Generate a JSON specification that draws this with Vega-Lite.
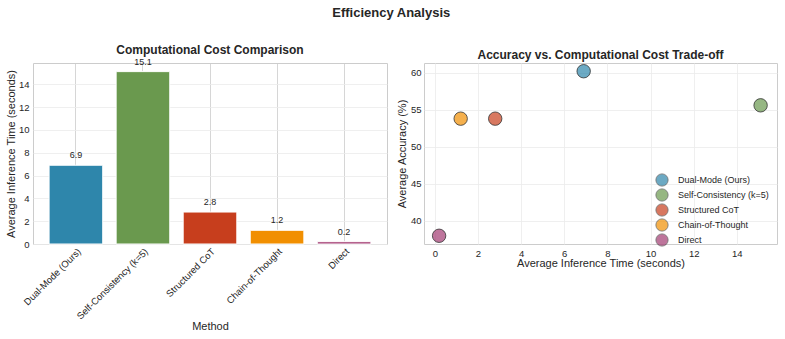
{
  "$schema": "https://vega.github.io/schema/vega-lite/v6.json",
  "autosize": {"type": "pad"},
  "padding": {"left": 4, "top": 7, "right": 5, "bottom": 5},
  "background": "white",
  "title": {"text": "Efficiency Analysis", "fontSize": 13, "fontWeight": "bold", "color": "#262626", "anchor": "middle", "offset": 23},
  "datasets": {
    "methods": [
      {"method": "Dual-Mode (Ours)", "time": 6.9, "accuracy": 60.2},
      {"method": "Self-Consistency (k=5)", "time": 15.1, "accuracy": 55.6},
      {"method": "Structured CoT", "time": 2.8, "accuracy": 53.8},
      {"method": "Chain-of-Thought", "time": 1.2, "accuracy": 53.8},
      {"method": "Direct", "time": 0.2, "accuracy": 38.0}
    ]
  },
  "config": {
    "font": "Liberation Sans",
    "view": {"stroke": "#cccccc", "strokeWidth": 1},
    "title": {"fontSize": 12, "fontWeight": "bold", "color": "#262626", "offset": 1},
    "axis": {
      "domain": false, "ticks": false, "labelFontSize": 9.5, "labelColor": "#262626",
      "titleFontSize": 11, "titleFontWeight": "normal", "titleColor": "#262626",
      "gridColor": "#ebebeb", "gridWidth": 0.8, "labelPadding": 4
    },
    "concat": {"spacing": 7}
  },
  "resolve": {"scale": {"color": "independent"}, "legend": {"color": "independent"}},
  "hconcat": [
    {
      "width": 354, "height": 181,
      "title": "Computational Cost Comparison",
      "data": {"name": "methods"},
      "encoding": {
        "x": {"field": "method", "type": "nominal", "sort": null,
              "scale": {"paddingInner": 0.2, "paddingOuter": 0.24},
              "axis": {"title": "Method", "labelAngle": -45, "labelAlign": "right", "labelBaseline": "top", "grid": true, "gridColor": "#cccccc", "bandPosition": 0.5, "titlePadding": 0, "labelPadding": 2}},
        "y": {"field": "time", "type": "quantitative",
              "scale": {"domain": [0, 15.855], "nice": false, "zero": false},
              "axis": {"title": "Average Inference Time (seconds)", "values": [0,2,4,6,8,10,12,14], "titlePadding": 2}}
      },
      "layer": [
        {"mark": {"type": "bar", "stroke": "white", "strokeWidth": 1},
         "encoding": {"color": {"field": "method", "type": "nominal", "sort": null,
           "scale": {"domain": ["Dual-Mode (Ours)", "Self-Consistency (k=5)", "Structured CoT", "Chain-of-Thought", "Direct"],
                     "range": ["#2E86AB", "#6A994E", "#C73E1D", "#F18F01", "#A23B72"]}, "legend": null}}},
        {"mark": {"type": "text", "dy": -10, "fontSize": 9, "color": "#262626", "baseline": "middle"},
         "encoding": {"text": {"field": "time", "type": "quantitative", "format": ".1f"}}}
      ]
    },
    {
      "width": 353, "height": 181,
      "title": "Accuracy vs. Computational Cost Trade-off",
      "data": {"name": "methods"},
      "mark": {"type": "point", "filled": true, "shape": "circle", "size": 180, "fillOpacity": 0.7, "stroke": "#333333", "strokeWidth": 0.8, "strokeOpacity": 1, "opacity": 1},
      "encoding": {
        "x": {"field": "time", "type": "quantitative",
              "scale": {"domain": [-0.5, 15.86], "nice": false, "zero": false},
              "axis": {"title": "Average Inference Time (seconds)", "values": [0,2,4,6,8,10,12,14], "grid": true, "titlePadding": 0}},
        "y": {"field": "accuracy", "type": "quantitative",
              "scale": {"domain": [36.89, 61.31], "nice": false, "zero": false},
              "axis": {"title": "Average Accuracy (%)", "values": [40,45,50,55,60], "titlePadding": 3, "labelPadding": 3}},
        "color": {"field": "method", "type": "nominal", "sort": null,
          "scale": {"domain": ["Dual-Mode (Ours)", "Self-Consistency (k=5)", "Structured CoT", "Chain-of-Thought", "Direct"],
                    "range": ["#2E86AB", "#6A994E", "#C73E1D", "#F18F01", "#A23B72"]},
          "legend": {"title": null, "orient": "none", "legendX": 231, "legendY": 110, "padding": 0,
                     "symbolType": "circle", "symbolSize": 150, "symbolOpacity": 0.7, "symbolStrokeColor": "#333333", "symbolStrokeWidth": 0.8,
                     "labelFontSize": 9, "labelColor": "#262626", "rowPadding": -3, "labelOffset": 9}}
      }
    }
  ]
}
